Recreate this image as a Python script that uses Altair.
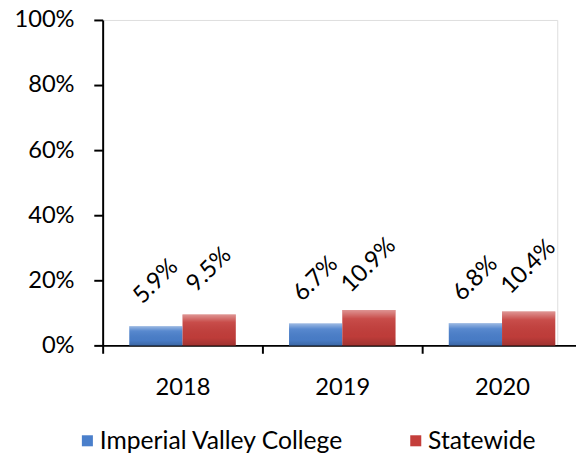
import altair as alt
import pandas as pd

years = ["2018", "2019", "2020"]
series = ["Imperial Valley College", "Statewide"]
ivc = [0.059, 0.067, 0.068]
statewide = [0.095, 0.109, 0.104]
colors = ["#4A7FCB", "#C43E3B"]

rows = []
for i, y in enumerate(years):
    rows.append({"year": y, "series": series[0], "value": ivc[i]})
    rows.append({"year": y, "series": series[1], "value": statewide[i]})
df = pd.DataFrame(rows)

FONT = "Lato"
FS = 24

x = alt.X("year:N", sort=years,
          scale=alt.Scale(domain=years, range=[0, 486], paddingInner=0, paddingOuter=0),
          axis=alt.Axis(title=None, labelAngle=0, tickBand="extent", tickSize=8, tickWidth=2,
                        domainWidth=2, domainColor="black", tickColor="black",
                        labelFont=FONT, labelFontSize=FS, labelColor="black", labelPadding=23,
                        labelFlush=False, labelBound=False))
xo = alt.XOffset("series:N", sort=series,
                 scale=alt.Scale(domain=series, paddingInner=0, paddingOuter=0.5))
y = alt.Y("value:Q",
          scale=alt.Scale(domain=[0, 1], nice=False),
          axis=alt.Axis(title=None, format=".0%", values=[0, 0.2, 0.4, 0.6, 0.8, 1.0],
                        grid=False, tickSize=9, tickWidth=2, domainWidth=2,
                        domainColor="black", tickColor="black",
                        labelFont=FONT, labelFontSize=FS, labelColor="black", labelPadding=20))
color = alt.Color("series:N", sort=series,
                  scale=alt.Scale(domain=series, range=colors),
                  legend=alt.Legend(title=None, orient="none", legendX=-28, legendY=414,
                                    direction="horizontal", symbolType="square", symbolSize=125,
                                    symbolStrokeWidth=0, labelFont=FONT, labelFontSize=25,
                                    labelColor="black", columnPadding=60, labelOffset=0,
                                    labelLimit=0))

bars = alt.Chart(df).mark_bar().encode(x=x, xOffset=xo, y=y, color=color)

shade = alt.Chart(df).mark_bar(
    color=alt.Gradient(
        gradient="linear", x1=0, y1=0, x2=0, y2=1,
        stops=[alt.GradientStop(offset=0, color="rgba(255,255,255,0.45)"),
               alt.GradientStop(offset=0.25, color="rgba(255,255,255,0.08)"),
               alt.GradientStop(offset=0.75, color="rgba(0,0,0,0.03)"),
               alt.GradientStop(offset=1, color="rgba(0,0,0,0.18)")]),
).encode(x=x, xOffset=xo, y=y)

labels = alt.Chart(df).mark_text(angle=315, align="center", baseline="middle",
                                  dx=32, dy=-32, font=FONT, fontSize=FS, color="black").encode(
    x=x, xOffset=xo, y=y, text=alt.Text("value:Q", format=".1%"))

chart = (bars + shade + labels).properties(
    width=461, height=330,
    autosize=alt.AutoSizeParams(type="none"),
    padding={"left": 96, "top": 9, "right": 19, "bottom": 106},
).configure_view(stroke=None).configure(font=FONT)

chart.save("out.html", embed_options={"renderer": "svg", "actions": False})
